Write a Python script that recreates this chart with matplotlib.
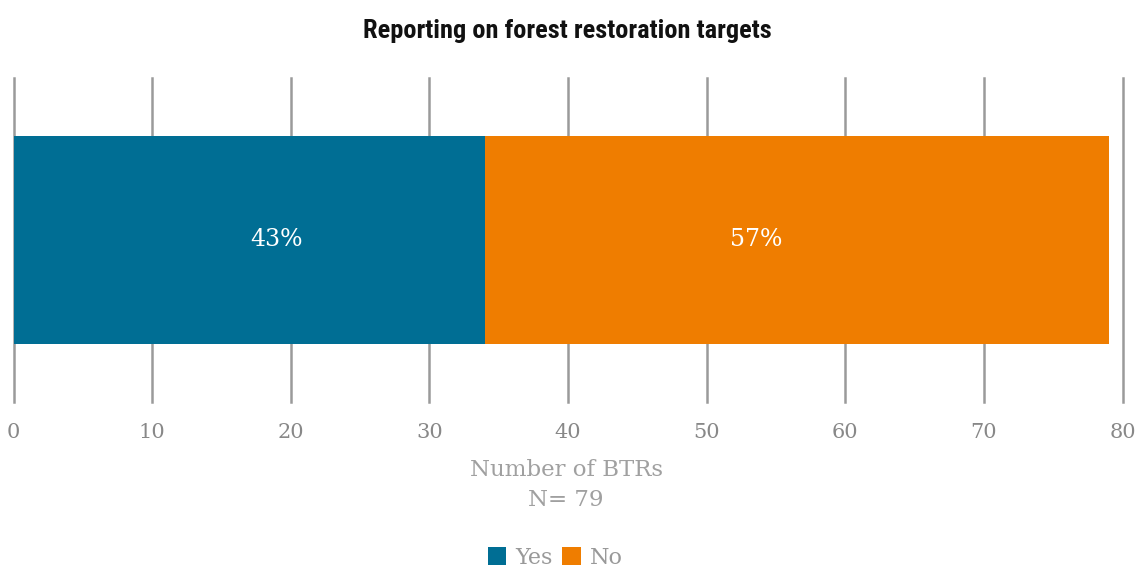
import matplotlib
matplotlib.use("Agg")
import matplotlib.pyplot as plt
from matplotlib.patches import Patch
from matplotlib import font_manager

categories = ["Yes", "No"]
counts = [34, 45]
percent_labels = ["43%", "57%"]
xticks = [0, 10, 20, 30, 40, 50, 60, 70, 80]
colors = ["#006E94", "#EF7D00"]

names = {f.name for f in font_manager.fontManager.ttflist}
title_kw = dict(family="DejaVu Sans", fontstretch="condensed", fontsize=18)
for cand in ["Roboto Condensed", "Liberation Sans Narrow", "Open Sans Condensed"]:
    if cand in names:
        title_kw = dict(family=cand, fontsize=19)
        break
serif = "DejaVu Serif"

fig = plt.figure(figsize=(11.43, 5.69), dpi=100)
ax = fig.add_axes([13.5/1143, 1-402/569, (1122.7-13.5)/1143, (402-78)/569])

left = 0
for c, v, col in zip(categories, counts, colors):
    ax.barh(0, v, left=left, height=0.642, color=col, zorder=3)
    left += v

label_x = [19.0, 53.6]
for lx, t in zip(label_x, percent_labels):
    ax.text(lx, 0.0, t, color="white", ha="center", va="center",
            fontsize=17, family=serif, zorder=4)

ax.set_xlim(0, 80)
ax.set_ylim(-0.5, 0.5)
ax.set_xticks(xticks)
ax.set_yticks([])
ax.grid(axis="x", color="#9a9a9a", linewidth=1.8, zorder=0)
for gl in ax.get_xgridlines():
    gl.set_clip_on(False)
for s in ax.spines.values():
    s.set_visible(False)
ax.tick_params(axis="x", length=0, pad=15, labelsize=15, labelcolor="#888888")
for lab in ax.get_xticklabels():
    lab.set_family(serif)

fig.text(566/1143, 1-470/569, "Number of BTRs", ha="center", va="center",
         fontsize=16.5, color="#a0a0a0", family=serif)
fig.text(566/1143, 1-500/569, "N= 79", ha="center", va="center",
         fontsize=16.5, color="#a0a0a0", family=serif)

fig.text(567/1143, 1-31/569, "Reporting on forest restoration targets",
         ha="center", va="center", fontweight="bold", color="#111111", **title_kw)

handles = [Patch(facecolor=c, edgecolor="none") for c in colors]
leg = fig.legend(handles, categories, loc="center", bbox_to_anchor=(555/1143, 1-558/569),
                 ncol=2, frameon=False, handlelength=0.85, handleheight=0.85,
                 handletextpad=0.4, columnspacing=0.4, prop={"family": serif, "size": 16})
for t in leg.get_texts():
    t.set_color("#999999")

fig.savefig("out.png", dpi=100)
